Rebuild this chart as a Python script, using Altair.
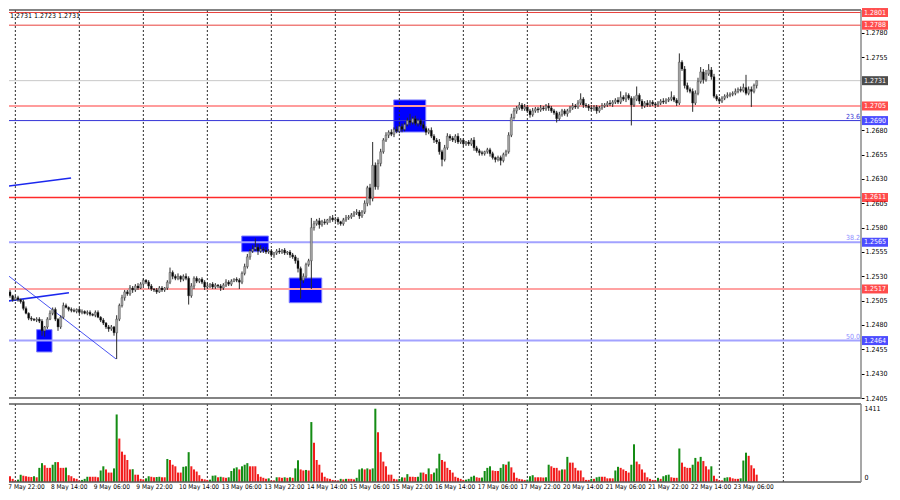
import altair as alt
import pandas as pd

# ---------------- data (prices given in pips above 1.2400) ----------------
first_open_pips = 140
close_pips = [
    135, 128, 114, 110, 106, 108, 106, 104, 97, 92,
    87, 86, 85, 86, 84, 74, 78, 86, 92, 96,
    86, 78, 88, 100, 98, 96, 95, 94, 96, 93,
    94, 92, 93, 91, 90, 93, 88, 85, 82, 78,
    76, 78, 72, 86, 100, 108, 114, 112, 118, 116,
    120, 118, 122, 126, 124, 120, 117, 116, 114, 118,
    116, 118, 124, 134, 130, 128, 130, 127, 130, 128,
    110, 120, 128, 125, 127, 124, 119, 120, 122, 119,
    121, 120, 118, 121, 124, 122, 125, 127, 126, 124,
    133, 140, 150, 156, 158, 160, 156, 158, 157, 155,
    156, 152, 154, 156, 155, 157, 154, 155, 152, 150,
    146, 138, 126, 130, 142, 146, 180, 184, 187, 183,
    186, 185, 188, 190, 188, 189, 186, 184, 188, 190,
    191, 193, 195, 196, 192, 196, 205, 221, 210, 244,
    222, 246, 258, 270, 275, 278, 276, 281, 279, 284,
    281, 286, 290, 288, 292, 287, 290, 286, 282, 278,
    280, 274, 270, 268, 258, 250, 262, 274, 272, 270,
    274, 268, 270, 266, 268, 266, 270, 262, 259, 257,
    256, 258, 260, 256, 252, 250, 252, 249, 255, 258,
    275, 293, 300, 303, 306, 302, 304, 300, 296, 300,
    302, 301, 303, 302, 305, 303, 300, 298, 292, 296,
    300, 297, 300, 303, 305, 304, 308, 312, 306, 305,
    303, 302, 304, 300, 303, 305, 306, 308, 307, 309,
    311, 309, 314, 312, 316, 313, 306, 312, 316, 310,
    305, 308, 306, 309, 307, 306, 308, 310, 309, 311,
    312, 314, 311, 308, 350, 343, 326, 322, 320, 308,
    318, 330, 340, 332, 338, 342, 335, 315, 312, 310,
    313, 315, 316, 317, 318, 320, 322, 321, 324, 318,
    322, 320, 326, 331,
]
upper_wick_pips = [
    5, 2, 3, 2, 1, 2, 2, 1, 2, 2,
    1, 2, 1, 2, 2, 2, 1, 2, 3, 2,
    2, 1, 2, 3, 2, 1, 2, 2, 1, 2,
    2, 1, 2, 2, 1, 2, 2, 1, 2, 1,
    2, 2, 1, 4, 2, 3, 2, 2, 3, 2,
    2, 3, 2, 2, 1, 2, 2, 1, 2, 2,
    2, 1, 2, 5, 2, 2, 3, 1, 2, 3,
    2, 3, 2, 2, 1, 2, 2, 3, 1, 2,
    2, 1, 2, 2, 3, 2, 2, 1, 2, 2,
    2, 3, 3, 2, 4, 9, 3, 4, 2, 3,
    2, 2, 1, 2, 3, 1, 2, 1, 2, 2,
    2, 3, 2, 3, 2, 2, 10, 3, 2, 3,
    2, 3, 1, 2, 3, 2, 2, 1, 2, 3,
    2, 2, 2, 3, 2, 2, 3, 2, 4, 24,
    3, 4, 3, 2, 3, 2, 3, 2, 3, 2,
    3, 2, 3, 7, 2, 3, 2, 2, 3, 2,
    2, 3, 2, 2, 3, 2, 3, 3, 2, 2,
    2, 3, 2, 2, 1, 2, 2, 3, 2, 2,
    2, 1, 2, 2, 2, 1, 2, 2, 2, 2,
    3, 4, 3, 2, 3, 2, 3, 2, 2, 3,
    2, 2, 3, 2, 2, 3, 2, 2, 2, 3,
    2, 2, 2, 2, 3, 2, 3, 6, 2, 2,
    2, 3, 2, 2, 2, 3, 2, 2, 3, 2,
    2, 3, 6, 2, 3, 2, 2, 3, 9, 2,
    2, 2, 3, 2, 2, 1, 2, 2, 3, 2,
    2, 6, 2, 2, 9, 2, 3, 3, 2, 3,
    3, 4, 5, 3, 4, 6, 3, 3, 2, 2,
    2, 2, 3, 2, 2, 3, 2, 3, 4, 13,
    3, 3, 2, 0,
]
lower_wick_pips = [
    2, 3, 3, 2, 2, 1, 2, 2, 2, 1,
    2, 2, 1, 2, 2, 5, 6, 2, 1, 2,
    2, 4, 2, 2, 1, 2, 2, 1, 2, 2,
    2, 1, 2, 2, 1, 2, 1, 2, 2, 2,
    3, 2, 3, 27, 2, 2, 3, 2, 2, 3,
    2, 2, 1, 2, 2, 3, 2, 2, 2, 1,
    2, 2, 2, 2, 3, 2, 2, 3, 2, 2,
    9, 2, 3, 2, 2, 2, 3, 2, 2, 2,
    2, 2, 3, 2, 2, 2, 2, 1, 2, 7,
    2, 2, 2, 3, 2, 2, 4, 2, 3, 2,
    2, 2, 3, 2, 2, 2, 2, 2, 3, 2,
    3, 4, 19, 3, 2, 2, 29, 3, 2, 4,
    2, 2, 2, 3, 2, 2, 3, 2, 2, 2,
    2, 2, 2, 2, 3, 2, 2, 3, 7, 3,
    3, 3, 3, 2, 2, 3, 2, 3, 2, 2,
    3, 2, 2, 3, 2, 2, 3, 2, 2, 3,
    2, 2, 3, 2, 3, 7, 2, 2, 3, 2,
    3, 2, 2, 3, 2, 2, 2, 3, 2, 3,
    2, 2, 2, 3, 2, 3, 2, 5, 2, 2,
    2, 2, 2, 3, 2, 2, 2, 2, 3, 2,
    2, 3, 2, 2, 2, 3, 2, 2, 4, 2,
    2, 2, 3, 2, 2, 2, 2, 2, 3, 2,
    3, 2, 2, 3, 2, 2, 2, 2, 2, 3,
    2, 2, 2, 2, 3, 2, 21, 2, 2, 3,
    3, 2, 2, 2, 2, 3, 2, 2, 2, 2,
    2, 2, 2, 3, 2, 2, 3, 3, 2, 9,
    2, 2, 2, 4, 2, 2, 3, 2, 2, 3,
    2, 2, 2, 2, 2, 2, 2, 2, 2, 2,
    2, 16, 2, 3,
]
volumes = [
    180, 240, 150, 110, 60, 25, 45, 140, 120, 110,
    100, 95, 110, 90, 270, 360, 320, 270, 270, 330,
    380, 380, 270, 270, 275, 130, 110, 70, 60, 30,
    40, 60, 100, 100, 100, 100, 90, 220, 300, 240,
    180, 180, 260, 1290, 830, 580, 520, 420, 240, 245,
    140, 140, 60, 50, 70, 110, 100, 90, 95, 100,
    90, 90, 440, 420, 330, 300, 180, 180, 290, 300,
    570, 300, 240, 200, 130, 60, 50, 40, 45, 120,
    125, 90, 100, 90, 80, 90, 210, 260, 280, 240,
    300, 330, 360, 300, 300, 300, 150, 100, 80, 60,
    70, 30, 30, 90, 90, 80, 90, 80, 90, 80,
    260, 415, 240, 220, 230, 220, 1145, 750, 420, 330,
    180, 100, 70, 60, 40, 30, 30, 60, 50, 60,
    60, 60, 50, 80, 240, 260, 240, 260, 240, 260,
    1400, 950, 570, 390, 300, 140, 140, 60, 50, 60,
    90, 85, 150, 100, 100, 95, 100, 180, 180, 150,
    260, 150, 180, 260, 540, 420, 390, 270, 230, 180,
    100, 80, 60, 40, 45, 60, 100, 120, 90, 80,
    85, 210, 270, 300, 220, 210, 210, 270, 340, 330,
    390, 280, 180, 80, 60, 50, 40, 45, 110, 130,
    90, 90, 90, 85, 90, 330, 300, 270, 270, 220,
    240, 240, 480, 370, 370, 270, 220, 220, 90, 40,
    40, 60, 60, 90, 100, 100, 100, 70, 70, 70,
    220, 290, 270, 240, 210, 180, 330, 720, 390, 340,
    240, 180, 90, 60, 40, 40, 80, 60, 110, 130,
    140, 90, 80, 80, 640, 370, 290, 270, 270, 330,
    460, 390, 480, 400, 300, 240, 300, 120, 60, 30,
    30, 80, 90, 90, 70, 60, 60, 70, 410, 560,
    500, 320, 260, 140,
]

time_labels = [
    "7 May 22:00", "8 May 14:00", "9 May 06:00", "9 May 22:00", "10 May 14:00",
    "13 May 06:00", "13 May 22:00", "14 May 14:00", "15 May 06:00", "15 May 22:00",
    "16 May 14:00", "17 May 06:00", "17 May 22:00", "20 May 14:00", "21 May 06:00",
    "21 May 22:00", "22 May 14:00", "23 May 06:00",
]
label_first_bar, label_step = 2, 16
grid_first_bar, grid_step, grid_count = 5, 24, 13

level_prices = [1.2801, 1.2788, 1.2731, 1.2705, 1.2690, 1.2611, 1.2565, 1.2517, 1.2464]
level_line_colors = ["#e8413c", "#e8413c", "#c8c8c8", "#ff9c9c", "#3434d6",
                     "#ff2a2a", "#a2a2ff", "#ffa2a2", "#a2a2ff"]
level_line_widths = [1, 1, 1, 2, 1, 1.3, 2, 2, 2]
level_box_colors = ["#ff0000", "#ff0000", "#000000", "#ff0000", "#0000ff",
                    "#ff0000", "#0000ff", "#ff0000", "#0000ff"]

fib_prices = [1.2690, 1.2565, 1.2464]
fib_texts = ["23.6", "38.2", "50.0"]
fib_colors = ["#3434d6", "#8c8cff", "#8c8cff"]

zone_bar_start = [13.0, 89.9, 107.7, 146.9]
zone_bar_end = [18.75, 99.9, 119.9, 158.9]
zone_top_pips = [75.2, 171.4, 128.3, 311.2]
zone_bot_pips = [52.3, 155.3, 102.9, 278.3]

trend_bar_start = [-0.4, -0.4, -0.4]
trend_pips_start = [221.8, 103.6, 136.5]
trend_bar_end = [25.9, 25.1, 42.75]
trend_pips_end = [231.0, 113.2, 45.1]
trend_widths = [1.6, 1.6, 0.8]

price_ticks = [1.2780, 1.2755, 1.2680, 1.2655, 1.2630, 1.2605, 1.2580, 1.2555,
               1.2530, 1.2505, 1.2480, 1.2455, 1.2430, 1.2405]
header_text = "1.2731 1.2723 1.2731"

# ---------------- build tables ----------------
assert len(close_pips) == len(upper_wick_pips) == len(lower_wick_pips) == len(volumes)


def to_price(p):
    return round(1.24 + p / 10000.0, 6)


rows = []
prev_c = first_open_pips
prev_v = None
for i, (c, uw, lw, v) in enumerate(zip(close_pips, upper_wick_pips, lower_wick_pips, volumes)):
    o = prev_c
    top, bot = max(o, c), min(o, c)
    if top - bot < 0.5:
        top, bot = top + 0.25, bot - 0.25
    rows.append({
        "bar": i, "bl": i - 0.38, "br": i + 0.38,
        "high": to_price(max(o, c) + uw), "low": to_price(min(o, c) - lw),
        "btop": to_price(top), "bbot": to_price(bot),
        "dir": "bull" if c >= o else "bear",
        "vol": v, "vdir": "vol up" if (prev_v is None or v > prev_v) else "vol down",
    })
    prev_c, prev_v = c, v
bars = pd.DataFrame(rows)

grid = pd.DataFrame({"g": [grid_first_bar + grid_step * k for k in range(grid_count)]})
labels = pd.DataFrame({"bar": [label_first_bar + label_step * k for k in range(len(time_labels))],
                       "lab": time_labels})
levels = pd.DataFrame({"price": level_prices, "lc": level_line_colors, "lw": level_line_widths,
                       "bc": level_box_colors, "txt": [f"{p:.4f}" for p in level_prices]})
fibs = pd.DataFrame({"price": fib_prices, "txt": fib_texts, "fc": fib_colors})
zones = pd.DataFrame({"x0": zone_bar_start, "x1": zone_bar_end,
                      "y0": [to_price(p) for p in zone_top_pips],
                      "y1": [to_price(p) for p in zone_bot_pips]})
trends = pd.DataFrame({"x0": trend_bar_start, "x1": trend_bar_end,
                       "y0": [to_price(p) for p in trend_pips_start],
                       "y1": [to_price(p) for p in trend_pips_end],
                       "w": trend_widths})
one = pd.DataFrame({"t": [header_text]})

# ---------------- chart ----------------
FONT = "Liberation Sans Narrow, DejaVu Sans Condensed, Liberation Sans, sans-serif"
W, H, HV = 852, 388, 78
XS = alt.Scale(domain=[2.625, 2.625 + W / 2.6667], nice=False, zero=False)
YS = alt.Scale(domain=[1.2405, 1.28036], nice=False, zero=False)
VS = alt.Scale(domain=[0, 1490], nice=False, zero=True)
YAX = alt.Axis(orient="right", values=price_ticks, format=".4f", domain=False, grid=False,
               ticks=True, tickSize=3, tickColor="#000000", tickWidth=1,
               labelFontSize=7, labelFont=FONT, labelColor="#000000", labelPadding=1,
               labelOverlap=False, labelFlush=False, title=None)


def X(field):
    return alt.X(field, type="quantitative", scale=XS, axis=None)


def Y(field):
    return alt.Y(field, type="quantitative", scale=YS, axis=YAX)


grid_rules = alt.Chart(grid).mark_rule(color="#2a2a2a", strokeWidth=1, strokeDash=[2, 2]).encode(
    x=X("g"))

zone_rects = alt.Chart(zones).mark_rect(color="#0000ff", stroke="#7c7cff", strokeWidth=1,
                                        clip=True).encode(
    x=X("x0"), x2="x1", y=Y("y0"), y2="y1")

level_rules = alt.Chart(levels).mark_rule(clip=True).encode(
    y=Y("price"),
    color=alt.Color("lc:N", scale=None, legend=None),
    strokeWidth=alt.StrokeWidth("lw:Q", scale=None, legend=None))

trend_lines = alt.Chart(trends).mark_rule(color="#1c28ee", clip=True).encode(
    x=X("x0"), x2="x1", y=Y("y0"), y2="y1",
    strokeWidth=alt.StrokeWidth("w:Q", scale=None, legend=None))

wicks = alt.Chart(bars).mark_rule(color="#2a2a2a", strokeWidth=1, clip=True).encode(
    x=X("bar"), y=Y("low"), y2="high")

bodies = alt.Chart(bars).mark_rect(stroke="#3a3a3a", strokeWidth=0.4, clip=True).encode(
    x=X("bl"), x2="br", y=Y("bbot"), y2="btop",
    color=alt.Color("dir:N", scale=alt.Scale(domain=["bull", "bear"], range=["#a8a8a8", "#000000"]),
                    legend=None))

fib_text = alt.Chart(fibs).mark_text(align="right", baseline="bottom", fontSize=7, font=FONT,
                                     dx=-1, dy=-1).encode(
    x=alt.value(W), y=Y("price"), text="txt:N",
    color=alt.Color("fc:N", scale=None, legend=None))

boxes = alt.Chart(levels).mark_tick(orient="horizontal", size=26, thickness=9).encode(
    x=alt.value(W + 14), y=Y("price"), color=alt.Color("bc:N", scale=None, legend=None))

box_text = alt.Chart(levels).mark_text(color="#ffffff", fontSize=7, font=FONT, align="center",
                                       baseline="middle").encode(
    x=alt.value(W + 14), y=Y("price"), text="txt:N")

header = alt.Chart(one).mark_text(align="left", baseline="top", fontSize=7, font=FONT,
                                  color="#000000").encode(
    x=alt.value(1), y=alt.value(2), text="t:N")

frame_top = alt.Chart(one).mark_rule(color="#5a5a5a", strokeWidth=1.5).encode(
    x=alt.value(0), x2=alt.value(W), y=alt.value(0))
frame_bottom = alt.Chart(one).mark_rule(color="#5a5a5a", strokeWidth=1.5).encode(
    x=alt.value(0), x2=alt.value(W), y=alt.value(H))
frame_right = alt.Chart(one).mark_rule(color="#8a8a8a", strokeWidth=1.5).encode(
    x=alt.value(W), y=alt.value(0), y2=alt.value(H))

price = alt.layer(
    zone_rects, grid_rules, level_rules, trend_lines, wicks, bodies,
    fib_text, boxes, box_text, header, frame_top, frame_bottom, frame_right,
).properties(width=W, height=H)

# volume panel
VAX = alt.Axis(orient="right", values=[0, 1411], format="d", domain=False, grid=False,
               ticks=False, labelFontSize=7, labelFont=FONT, labelColor="#000000",
               labelPadding=3, labelOverlap=False, labelFlush=False, title=None,
               labelOffset={"condition": {"test": "datum.value === 0", "value": -5}, "value": 0})

vgrid = alt.Chart(grid).mark_rule(color="#2a2a2a", strokeWidth=1, strokeDash=[2, 2]).encode(
    x=X("g"))
vbars = alt.Chart(bars).mark_rect(clip=True).encode(
    x=X("bl"), x2="br",
    y=alt.Y("vol:Q", scale=VS, axis=VAX), y2=alt.datum(0),
    color=alt.Color("vdir:N",
                    scale=alt.Scale(domain=["vol up", "vol down"], range=["#148c14", "#f21c1c"]),
                    legend=None))
vlabels = alt.Chart(labels).mark_text(align="left", baseline="top", fontSize=6.5, font=FONT,
                                      color="#000000", dx=1).encode(
    x=X("bar"), y=alt.value(HV + 2), text="lab:N")
vframe_top = alt.Chart(one).mark_rule(color="#5a5a5a", strokeWidth=1.5).encode(
    x=alt.value(0), x2=alt.value(W), y=alt.value(0))
vframe_bottom = alt.Chart(one).mark_rule(color="#5a5a5a", strokeWidth=1.5).encode(
    x=alt.value(0), x2=alt.value(W), y=alt.value(HV))
vframe_right = alt.Chart(one).mark_rule(color="#8a8a8a", strokeWidth=1.5).encode(
    x=alt.value(W), y=alt.value(0), y2=alt.value(HV))

volume = alt.layer(vgrid, vbars, vlabels, vframe_top, vframe_bottom, vframe_right).properties(
    width=W, height=HV)

chart = (alt.vconcat(price, volume, spacing=2)
         .resolve_scale(color="independent")
         .properties(padding=0)
         .configure_view(stroke=None))

chart.save("out.html", embed_options={"renderer": "svg", "actions": False})
